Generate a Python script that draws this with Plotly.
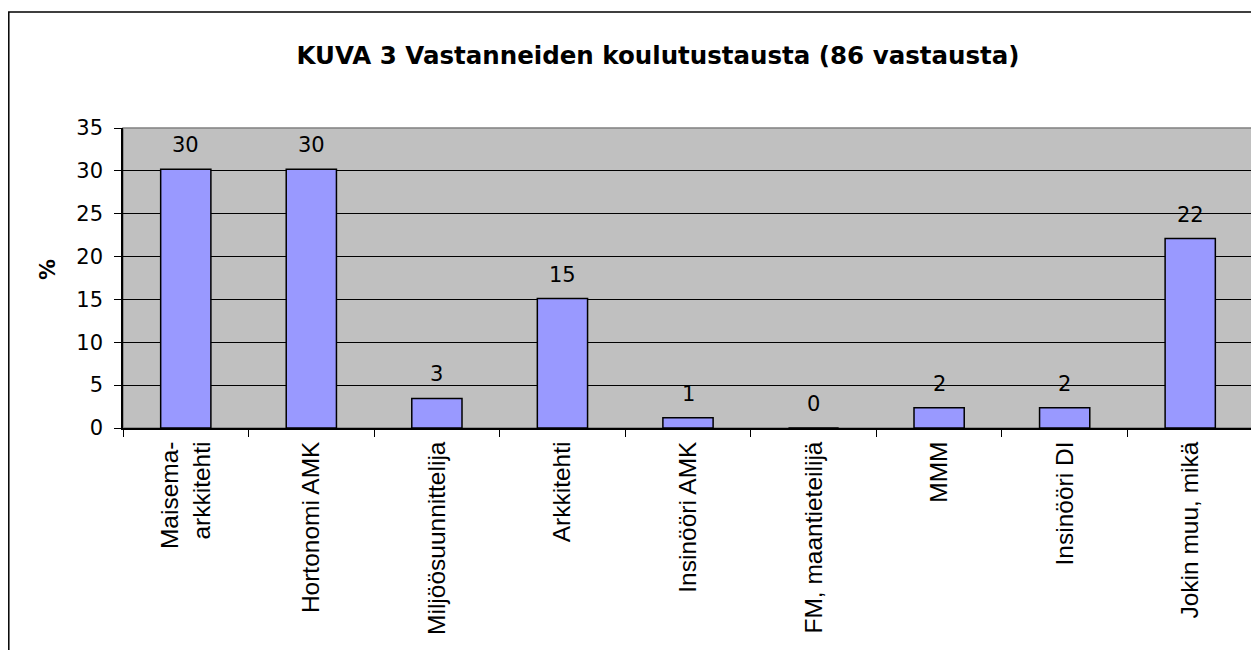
import plotly.graph_objects as go

categories = ["Maisema-<br>arkkitehti", "Hortonomi AMK", "Miljöösuunnittelija", "Arkkitehti",
              "Insinööri AMK", "FM, maantieteilijä", "MMM", "Insinööri DI", "Jokin muu, mikä"]
values = [30.2, 30.2, 3.45, 15.1, 1.2, 0.0, 2.35, 2.35, 22.1]
labels = ["30", "30", "3", "15", "1", "0", "2", "2", "22"]
y_ticks = [0, 5, 10, 15, 20, 25, 30, 35]

FONT = "Liberation Sans, Arial, sans-serif"
WIDE = "DejaVu Sans, Liberation Sans, Arial, sans-serif"

W, H = 1251, 642  # page body has an 8px offset
L, T, R = 115, 120, 6
B = H - 420
PW = W - L - R
PH = H - T - B

fig = go.Figure()
fig.add_trace(go.Bar(
    x=categories, y=values,
    marker=dict(color="#9999FF", line=dict(color="black", width=1.5)),
    hoverinfo="skip",
))

for c, v, t in zip(categories, values, labels):
    fig.add_annotation(x=c, y=v, text=t, showarrow=False, yanchor="bottom",
                       yshift=10, font=dict(family=WIDE, size=21, color="black"))

fig.add_annotation(xref="paper", yref="paper", x=(40 - L) / PW, y=(420 - 262) / PH,
                   text="<b>%</b>", textangle=-90, showarrow=False,
                   xanchor="center", yanchor="middle",
                   font=dict(family=WIDE, size=21, color="black"))

# outer chart frame
fig.add_shape(type="rect", xref="paper", yref="paper",
              x0=(0.8 - L) / PW, x1=1.3, y0=-1.0, y1=(420 - 4) / PH,
              line=dict(color="black", width=1.5), fillcolor="rgba(0,0,0,0)", layer="above")
# plot area border
fig.add_shape(type="rect", xref="paper", yref="paper", x0=0, x1=1, y0=0, y1=1,
              line=dict(color="#808080", width=1.5), fillcolor="rgba(0,0,0,0)", layer="below")

fig.update_layout(
    width=W, height=H,
    margin=dict(l=L, r=R, t=T, b=B),
    paper_bgcolor="white", plot_bgcolor="#C0C0C0",
    bargap=0.6, showlegend=False,
    font=dict(family=FONT, size=22, color="black"),
    title=dict(text="<b>KUVA 3 Vastanneiden koulutustausta (86 vastausta)</b>",
               x=650 / W, xanchor="center", xref="container",
               y=1 - 47 / H, yanchor="middle", yref="container",
               font=dict(family=WIDE, size=24.5, color="black")),
    xaxis=dict(tickangle=-90, tickson="boundaries", ticks="outside", ticklen=7,
               tickcolor="black", showline=True, linecolor="black", linewidth=1.5,
               showgrid=False, tickfont=dict(family=FONT, size=24.5, color="black"),
               ticklabelstandoff=2),
    yaxis=dict(range=[0, 35], tickvals=y_ticks, ticks="outside", ticklen=7,
               tickcolor="black", showline=True, linecolor="black", linewidth=1.5,
               showgrid=True, gridcolor="black", gridwidth=1, zeroline=False,
               tickfont=dict(family=WIDE, size=21, color="black"),
               ticklabelstandoff=7),
)

fig.write_html("out.html")
